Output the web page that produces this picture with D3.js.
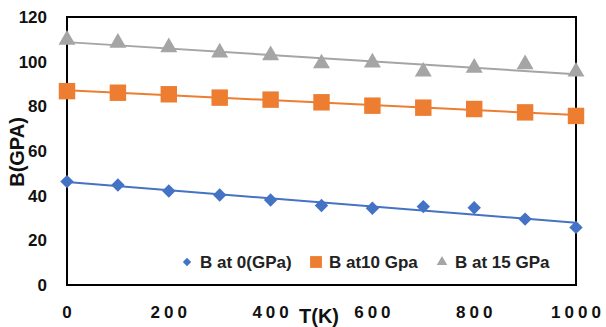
<!DOCTYPE html>
<html><head><meta charset="utf-8">
<script src="https://cdn.jsdelivr.net/npm/d3@7"></script>
<style>body{margin:0;background:#fff}svg{display:block}</style>
</head><body><svg id="c" width="606" height="327"></svg>
<script>
const temps = [0,100,200,300,400,500,600,700,800,900,1000];
const b0  = [46.3,44.8,42.1,40.3,38.1,35.6,34.4,35.1,34.6,29.5,25.8];
const b10 = [86.8,86.1,85.4,83.9,83.0,81.8,80.3,79.4,78.8,77.3,75.7];
const b15 = [109.8,108.4,106.4,104.1,102.8,99.2,99.6,95.5,97.2,98.8,95.5];
const seriesNames = ["B at 0(GPa)","B at10 Gpa","B at 15 GPa"];
const colors = ["#4472C4","#ED7D31","#A5A5A5"];
const xTicks = [0,200,400,600,800,1000];
const yTicks = [0,20,40,60,80,100,120];

const svg = d3.select("#c");
const x = d3.scaleLinear().domain([0,1000]).range([67,576]);
const y = d3.scaleLinear().domain([0,120]).range([285,17]);
const font = "'Liberation Sans', Arial, sans-serif";

// frame
svg.append("rect").attr("x",x(0)).attr("y",y(120)).attr("width",x(1000)-x(0)).attr("height",y(0)-y(120))
  .attr("fill","none").attr("stroke","#000").attr("stroke-width",2);

// y tick labels
svg.append("g").selectAll("text").data(yTicks).join("text")
  .attr("x",47).attr("y",d=>y(d)).attr("dy","0.36em").attr("text-anchor","end")
  .attr("font-family",font).attr("font-weight","bold").attr("font-size",17).attr("fill","#111").text(d=>d);
// x tick labels
svg.append("g").selectAll("text").data(xTicks).join("text")
  .attr("x",d=>x(d)+2).attr("y",318).attr("text-anchor","middle")
  .attr("font-family",font).attr("font-weight","bold").attr("font-size",17).attr("fill","#111")
  .attr("letter-spacing","4px").text(d=>d);

// titles
svg.append("text").attr("transform","translate(24,152) rotate(-90)").attr("text-anchor","middle")
  .attr("font-family",font).attr("font-weight","bold").attr("font-size",20).attr("fill","#111").text("B(GPA)");
svg.append("text").attr("x",319).attr("y",323).attr("text-anchor","middle")
  .attr("font-family",font).attr("font-weight","bold").attr("font-size",20).attr("fill","#111").text("T(K)");

const all = [b0,b10,b15];
// trendlines
all.forEach((vals,i)=>{
  const mx = d3.mean(temps), my = d3.mean(vals);
  const slope = d3.sum(temps.map((t,k)=>(t-mx)*(vals[k]-my)))/d3.sum(temps.map(t=>(t-mx)*(t-mx)));
  const icpt = my - slope*mx;
  svg.append("line").attr("x1",x(0)).attr("y1",y(icpt)).attr("x2",x(1000)).attr("y2",y(icpt+slope*1000))
    .attr("stroke",colors[i]).attr("stroke-width",2);
});
// markers
const shapes = [
  d3.symbol().type(d3.symbolDiamond2).size(115),
  d3.symbol().type(d3.symbolSquare).size(270),
  d3.symbol().type(d3.symbolTriangle).size(125)
];
all.forEach((vals,i)=>{
  svg.append("g").selectAll("path").data(vals).join("path")
    .attr("transform",(d,k)=>`translate(${x(temps[k])},${y(d)})`)
    .attr("d",shapes[i]).attr("fill",colors[i]);
});

// legend
const legX = [187,316,442];
const legShapes = [
  d3.symbol().type(d3.symbolDiamond2).size(45),
  d3.symbol().type(d3.symbolSquare).size(140),
  d3.symbol().type(d3.symbolTriangle).size(48)
];
seriesNames.forEach((n,i)=>{
  svg.append("path").attr("transform",`translate(${legX[i]},262)`).attr("d",legShapes[i]).attr("fill",colors[i]);
  svg.append("text").attr("x",legX[i]+13).attr("y",262).attr("dy","0.36em")
    .attr("font-family",font).attr("font-weight","bold").attr("font-size",17).attr("fill","#222").text(n);
});
</script></body></html>
